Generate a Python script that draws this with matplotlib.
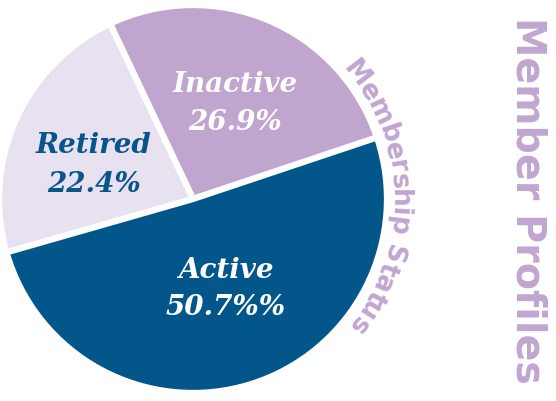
import numpy as np
import matplotlib
matplotlib.use("Agg")
import matplotlib.pyplot as plt
from matplotlib.font_manager import FontProperties

# data
labels = ["Inactive", "Retired", "Active"]
values = [26.9, 22.4, 50.7]
pct_text = ["26.9%", "22.4%", "50.7%%"]
colors = ["#c0a5cf", "#e8e1ef", "#02568a"]
text_colors = ["white", "#08558a", "white"]
arc_title = "Membership Status"
side_title = "Member Profiles"

W, H = 556, 402
fig = plt.figure(figsize=(W / 100, H / 100), dpi=100)
ax = fig.add_axes([0, 0, 1, 1])

cx, cy, R = 193, H - 200, 194

ax.pie(values, colors=colors, startangle=18.5, counterclock=True,
       center=(cx, cy), radius=R, frame=True,
       wedgeprops=dict(edgecolor="white", linewidth=4.5))
ax.set_xlim(0, W)
ax.set_ylim(0, H)
ax.set_aspect("equal")
ax.axis("off")

# labels inside slices (pixel positions from top-left)
label_pos = [(235, 84, 123), (94, 146, 185), (226, 271, 308)]
serif = FontProperties(family="DejaVu Serif", weight="bold", style="italic", size=20)
for i in range(3):
    x, y1, y2 = label_pos[i]
    ax.text(x, H - y1, labels[i], fontproperties=serif, color=text_colors[i],
            ha="center", va="center")
    ax.text(x, H - y2, pct_text[i], fontproperties=serif, color=text_colors[i],
            ha="center", va="center")

# curved text along the pie edge
lav = "#c0a6d0"
arc_font = FontProperties(family="DejaVu Sans", weight="bold", size=19)
renderer = fig.canvas.get_renderer()


def tw(s):
    w, h, d = renderer.get_text_width_height_descent(s, arc_font, ismath=False)
    return w


base = tw("xx")
r_txt = 206
total = tw("x" + arc_title + "x") - base
start = np.radians(1) + total / 2 / r_txt
for i, ch in enumerate(arc_title):
    a = tw("x" + arc_title[:i] + "x") - base
    b = tw("x" + arc_title[:i + 1] + "x") - base
    mid = (a + b) / 2
    th = start - mid / r_txt
    ax.text(cx + r_txt * np.cos(th), cy + r_txt * np.sin(th), ch,
            fontproperties=arc_font, color=lav, rotation=np.degrees(th) - 90,
            rotation_mode="anchor", ha="center", va="center")

ax.text(528, H - 200, side_title, color=lav, fontsize=28.5, fontweight="bold",
        family="DejaVu Sans", rotation=-90, ha="center", va="center")

fig.savefig("out.png", dpi=100)
